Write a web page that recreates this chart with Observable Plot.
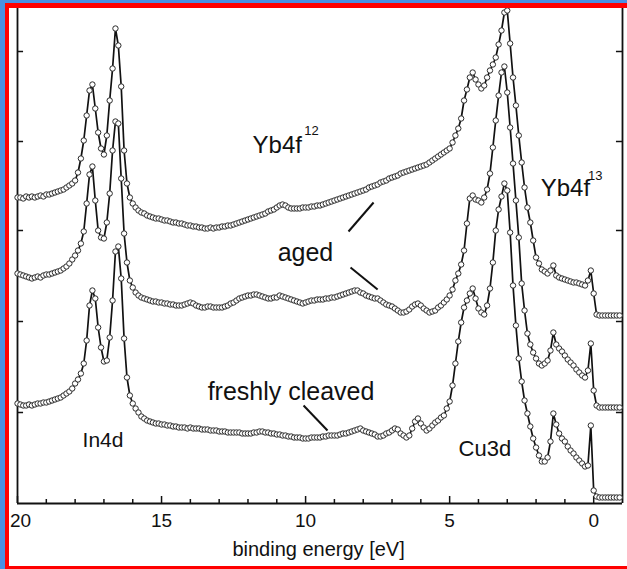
<!DOCTYPE html>
<html>
<head>
<meta charset="utf-8">
<script src="https://cdn.jsdelivr.net/npm/d3@7"></script>
<script src="https://cdn.jsdelivr.net/npm/@observablehq/plot@0.6"></script>
<style>
  html, body { margin: 0; padding: 0; width: 627px; height: 569px; overflow: hidden; background: #4a90e2; }
  #frame { position: absolute; left: 5px; top: 3px; width: 618px; height: 558px; background: #fff;
           border-left: 4px solid #ff0000; border-top: 5px solid #ff0000; border-bottom: 3px solid #ff0000; overflow: hidden; }
</style>
</head>
<body>
<div id="frame"></div>
<script>
// Binding energy grid (eV), 20.0 down to -0.9 in 0.1 eV steps (measurement grid)
const energy = d3.range(210).map(i => Math.round((20 - i * 0.1) * 10) / 10);

// Intensity (arb. units), upper "aged" spectrum
const agedUpper = [
  306,306,305,307,306,307,306,307,308,307,
  309,309,310,311,312,313,314,316,318,320,
  323,331,345,363,388,413,419,395,371,355,
  349,368,403,435,475,458,417,353,320,306,
  300,296,293,291,290,288,287,286,285,285,
  284,283,283,282,281,281,280,280,279,278,
  278,277,277,276,276,275,275,276,275,276,
  276,277,277,278,278,279,280,281,282,283,
  284,285,286,287,288,289,290,292,293,294,
  296,298,299,298,296,295,295,295,295,296,
  296,296,297,297,298,298,299,300,301,302,
  303,304,305,306,307,308,309,310,311,312,
  313,314,316,317,318,319,321,322,323,325,
  326,327,328,330,331,332,333,334,335,336,
  337,338,339,341,343,345,347,349,351,353,
  355,361,368,375,385,403,414,426,431,424,
  419,415,418,426,433,439,446,459,473,491,
  493,460,426,398,368,341,316,296,281,263,
  246,240,234,232,230,233,238,228,226,225,
  224,223,222,221,221,220,219,218,223,233,
  210,189,188,188,188,188,188,188,188,188
];

// Intensity (arb. units), lower "aged" spectrum
const agedLower = [
  230,229,228,227,226,225,226,227,226,228,
  229,229,230,231,232,233,235,237,240,244,
  248,253,260,272,300,329,337,303,273,266,
  265,281,310,353,382,380,325,270,241,223,
  216,211,208,206,205,204,203,202,202,201,
  201,200,200,199,199,198,198,198,199,200,
  201,200,198,197,196,196,197,197,196,196,
  196,196,197,198,200,201,203,205,206,207,
  208,208,209,209,208,207,206,205,205,206,
  206,208,207,206,205,204,203,202,201,200,
  201,202,203,203,204,204,204,205,205,206,
  206,207,208,209,210,211,212,213,213,211,
  210,208,207,206,205,205,203,201,199,198,
  197,195,193,191,191,192,194,197,199,200,
  198,195,193,191,192,193,196,198,201,204,
  208,214,223,230,239,253,280,305,308,304,
  303,301,306,314,330,356,383,408,431,437,
  411,376,340,303,266,220,193,170,159,151,
  145,140,138,140,143,153,171,159,155,152,
  148,144,141,138,134,131,128,126,133,160,
  113,98,96,96,96,96,96,96,96,96
];

// Intensity (arb. units), freshly cleaved spectrum
const freshlyCleaved = [
  100,99,98,98,99,98,99,100,100,101,
  101,102,103,104,105,106,108,110,112,115,
  120,124,130,140,163,198,213,205,176,156,
  142,143,166,203,252,257,225,165,126,108,
  100,95,91,87,85,83,82,81,80,80,
  79,79,78,78,77,77,76,76,76,75,
  76,75,75,75,74,74,74,73,73,73,
  72,72,72,71,71,71,71,71,70,70,
  70,70,71,71,72,72,71,71,70,70,
  69,69,68,68,67,67,66,66,66,65,
  65,65,66,66,66,66,67,67,68,68,
  68,68,69,70,70,71,72,73,74,75,
  73,72,71,70,69,67,67,68,70,71,
  73,75,74,70,68,66,68,75,82,85,
  80,76,73,75,78,81,83,86,88,95,
  102,118,140,162,181,196,203,210,215,205,
  195,191,189,198,215,241,273,294,307,320,
  313,271,218,178,145,122,103,90,77,65,
  56,48,42,42,46,62,90,79,70,65,
  62,57,53,50,46,43,40,37,38,78,
  13,7,6,6,6,6,6,6,6,6
];

// Axis ticks
const majorXTicks = [20, 15, 10, 5, 0];
const minorXTicks = [19, 18, 17, 16, 14, 13, 12, 11, 9, 8, 7, 6, 4, 3, 2, 1];
const yTicks = [91, 182, 273, 362, 452];
const xLabel = "binding energy [eV]";

// Text annotations
const labelTexts = ["Yb4f", "12", "Yb4f", "13", "aged", "freshly cleaved", "In4d", "Cu3d"];
const labelE     = [11.84, 10.05, 1.84, 0.2, 10.97, 13.4, 17.74, 4.69];
const labelI     = [358, 373, 315, 328, 251, 112, 63, 55];
const labelSize  = [24, 13, 24, 13, 25, 25, 21, 22];

// Leader lines (from label towards curve)
const leaderE1 = [8.51, 8.44, 10.07];
const leaderI1 = [272, 236, 98];
const leaderE2 = [7.64, 7.5, 9.24];
const leaderI2 = [301, 214, 73];

const seriesNames = ["aged (upper)", "aged (lower)", "freshly cleaved"];
const seriesValues = [agedUpper, agedLower, freshlyCleaved];
const spectra = seriesNames.map((name, k) => seriesValues[k].map((v, i) => ({E: energy[i], I: v, s: name})));

const labels = labelTexts.map((t, i) => ({t, E: labelE[i], I: labelI[i], size: labelSize[i]}));
const leaders = leaderE1.map((e, i) => ({x1: e, y1: leaderI1[i], x2: leaderE2[i], y2: leaderI2[i]}));

const ink = "#111";
const marks = [];

// frame lines (left, right, bottom)
marks.push(Plot.ruleX([20, -1], {stroke: ink, strokeWidth: 1.8}));
marks.push(Plot.ruleY([0], {stroke: ink, strokeWidth: 1.8}));
// inward ticks
marks.push(Plot.ruleX(majorXTicks, {x: d => d, y1: 0, y2: 7, stroke: ink, strokeWidth: 1.5}));
marks.push(Plot.ruleX(minorXTicks, {x: d => d, y1: 0, y2: 4, stroke: ink, strokeWidth: 1.5}));
marks.push(Plot.ruleY(yTicks, {y: d => d, x1: 20, x2: 19.79, stroke: ink, strokeWidth: 1.5}));
marks.push(Plot.ruleY(yTicks, {y: d => d, x1: -1, x2: -0.79, stroke: ink, strokeWidth: 1.5}));
// tick labels ("20" nudged right so it stays inside the frame)
marks.push(Plot.axisX({ticks: majorXTicks.slice(0, 1), tickSize: 0, tickPadding: 10, tickFormat: d => String(d), fontSize: 19, label: null, fill: ink, dx: 3}));
marks.push(Plot.axisX({ticks: majorXTicks.slice(1), tickSize: 0, tickPadding: 10, tickFormat: d => String(d), fontSize: 19, label: null, fill: ink}));

for (const data of spectra) {
  marks.push(Plot.line(data, {x: "E", y: "I", stroke: ink, strokeWidth: 1.7}));
  marks.push(Plot.dot(data, {x: "E", y: "I", r: 2.7, fill: "#fff", stroke: "#2a2a2a", strokeWidth: 1}));
}

marks.push(Plot.link(leaders, {x1: "x1", y1: "y1", x2: "x2", y2: "y2", stroke: ink, strokeWidth: 2}));
marks.push(Plot.text(labels, {x: "E", y: "I", text: "t", fontSize: d => d.size, textAnchor: "start", lineAnchor: "middle", fill: ink}));
marks.push(Plot.text([xLabel], {x: 9.55, y: -46, text: d => d, fontSize: 20, textAnchor: "middle", lineAnchor: "middle", fill: ink}));

const chart = Plot.plot({
  width: 618,
  height: 558,
  marginLeft: 8,
  marginRight: 5,
  marginTop: 0,
  marginBottom: 63,
  style: {fontFamily: "'Liberation Sans', Arial, sans-serif", background: "transparent", overflow: "hidden"},
  x: {domain: [20, -1], axis: null},
  y: {domain: [0, 495], axis: null},
  marks
});
document.getElementById("frame").appendChild(chart);
</script>
</body>
</html>
